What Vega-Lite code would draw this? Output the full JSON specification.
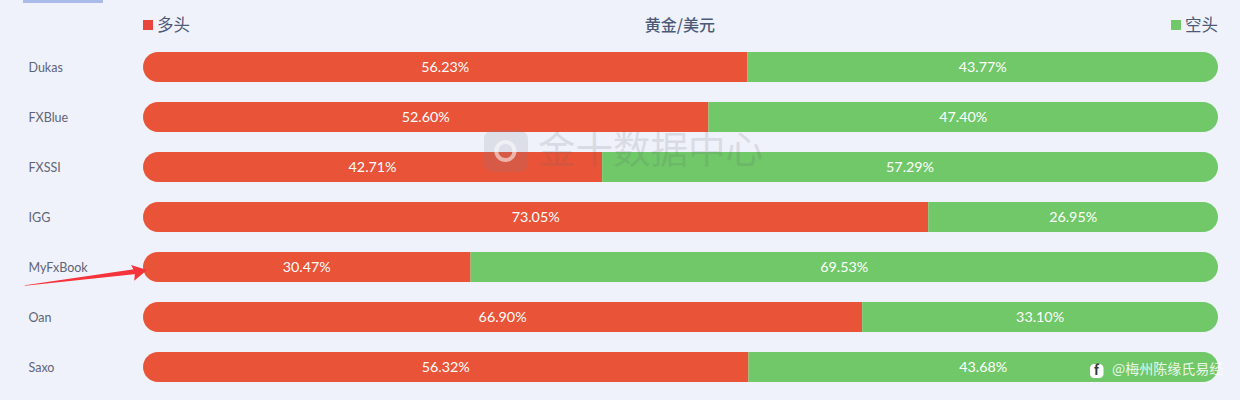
{"$schema":"https://vega.github.io/schema/vega-lite/v6.json","width":1240,"height":400,"padding":0,"autosize":{"type":"none"},"background":"#f0f2fb","config":{"view":{"stroke":null},"font":"Noto Sans CJK SC"},
"datasets":{"rates":[
{"source":"Dukas","side":"多头","value":0.5623},{"source":"Dukas","side":"空头","value":0.4377},
{"source":"FXBlue","side":"多头","value":0.526},{"source":"FXBlue","side":"空头","value":0.474},
{"source":"FXSSI","side":"多头","value":0.4271},{"source":"FXSSI","side":"空头","value":0.5729},
{"source":"IGG","side":"多头","value":0.7305},{"source":"IGG","side":"空头","value":0.2695},
{"source":"MyFxBook","side":"多头","value":0.3047},{"source":"MyFxBook","side":"空头","value":0.6953},
{"source":"Oan","side":"多头","value":0.669},{"source":"Oan","side":"空头","value":0.331},
{"source":"Saxo","side":"多头","value":0.5632},{"source":"Saxo","side":"空头","value":0.4368}],
"notes":[
{"id":"tab","x":-0.1116,"x2":-0.0372,"y":-0.34,"y2":-0.28},
{"id":"longKey","x":0,"x2":0.0093,"y":0.06,"y2":0.26},
{"id":"shortKey","x":0.9563,"x2":0.9656,"y":0.06,"y2":0.26},
{"id":"logo","x":0.3172,"x2":0.3581,"y":2.26,"y2":3.1},
{"id":"tagIcon","x":0.8809,"x2":0.8935,"y":6.94,"y2":7.22}],
"labels":[
{"id":"left","x":0.013,"y":0.18,"text":"多头"},
{"id":"right","x":1,"y":0.18,"text":"空头"},
{"id":"title","x":0.4995,"y":0.18,"text":"黄金/美元"},
{"id":"mark","x":0.472,"y":2.7,"text":"金十数据中心"},
{"id":"tag","x":0.9013,"y":7.06,"text":"@梅州陈缘氏易经"},
{"id":"f","x":0.887,"y":7.08,"text":"f"}],
"arrow":[
{"part":"shaft","x":-0.1098,"y":5.37,"w":0.5},{"part":"shaft","x":-0.0065,"y":5.09,"w":5},
{"part":"head","x":-0.0037,"y":5.1,"w":8}]},
"data":{"name":"rates"},
"resolve":{"scale":{"y":"independent"}},
"layer":[
{"layer":[
{"transform":[{"stack":"value","groupby":["source"],"sort":[{"field":"side","order":"ascending"}],"as":["start","end"]},{"filter":"datum.side==='多头'"}],
"mark":{"type":"bar","color":"#e95337","cornerRadiusTopLeft":15,"cornerRadiusBottomLeft":15},
"encoding":{"x":{"field":"start","type":"quantitative","scale":{"domain":[0,1],"range":[143,1218],"nice":false,"zero":false},"axis":null},"x2":{"field":"end"},
"y":{"field":"source","type":"nominal","title":null,"scale":{"type":"band","domain":["header","Dukas","FXBlue","FXSSI","IGG","MyFxBook","Oan","Saxo"],"range":[-8,392],"paddingInner":0.4,"paddingOuter":0.2},
"axis":{"values":["Dukas","FXBlue","FXSSI","IGG","MyFxBook","Oan","Saxo"],"orient":"left","offset":-28,"labelAlign":"left","labelPadding":0,"labelOffset":1,"ticks":false,"domain":false,"grid":false,"labelFont":"Lato","labelFontSize":12.5,"labelColor":"#5f6478"}}}},
{"transform":[{"stack":"value","groupby":["source"],"sort":[{"field":"side","order":"ascending"}],"as":["start","end"]},{"filter":"datum.side==='空头'"}],
"mark":{"type":"bar","color":"#70c868","cornerRadiusTopRight":15,"cornerRadiusBottomRight":15},
"encoding":{"x":{"field":"start","type":"quantitative","axis":null},"x2":{"field":"end"},"y":{"field":"source","type":"nominal"}}},
{"mark":{"type":"text","color":"#ffffff","fontSize":14.3,"font":"Lato","dy":0.5},
"encoding":{"x":{"field":"value","type":"quantitative","stack":"zero","bandPosition":0.5,"axis":null},"y":{"field":"source","type":"nominal"},"order":{"field":"side","sort":"ascending"},"text":{"field":"value","type":"quantitative","format":".2%"}}}
]},
{"layer":[
{"data":{"name":"notes"},"transform":[{"filter":"datum.id==='tab'"}],"mark":{"type":"rect","color":"#a9bce8"},"encoding":{"x":{"field":"x","type":"quantitative","axis":null},"x2":{"field":"x2"},"y":{"field":"y","type":"quantitative","axis":null,"scale":{"domain":[-0.34,7.66],"range":[0,400],"nice":false,"zero":false}},"y2":{"field":"y2"}}},
{"data":{"name":"notes"},"transform":[{"filter":"datum.id==='longKey'"}],"mark":{"type":"rect","color":"#e8463a"},"encoding":{"x":{"field":"x","type":"quantitative","axis":null},"x2":{"field":"x2"},"y":{"field":"y","type":"quantitative","axis":null},"y2":{"field":"y2"}}},
{"data":{"name":"notes"},"transform":[{"filter":"datum.id==='shortKey'"}],"mark":{"type":"rect","color":"#70c868"},"encoding":{"x":{"field":"x","type":"quantitative","axis":null},"x2":{"field":"x2"},"y":{"field":"y","type":"quantitative","axis":null},"y2":{"field":"y2"}}},
{"data":{"name":"notes"},"transform":[{"filter":"datum.id==='logo'"}],"mark":{"type":"rect","color":"#7a7f8c","opacity":0.17,"cornerRadius":9},"encoding":{"x":{"field":"x","type":"quantitative","axis":null},"x2":{"field":"x2"},"y":{"field":"y","type":"quantitative","axis":null},"y2":{"field":"y2"}}},
{"data":{"name":"labels"},"transform":[{"filter":"datum.id==='mark'"}],"mark":{"type":"point","shape":"circle","filled":false,"color":"#ffffff","opacity":0.55,"strokeWidth":4,"size":330,"xOffset":-145,"yOffset":-1},"encoding":{"x":{"field":"x","type":"quantitative","axis":null},"y":{"field":"y","type":"quantitative","axis":null}}},
{"data":{"name":"labels"},"transform":[{"filter":"datum.id==='mark'"}],"mark":{"type":"text","color":"#5f6673","opacity":0.16,"fontSize":37.5},"encoding":{"x":{"field":"x","type":"quantitative","axis":null},"y":{"field":"y","type":"quantitative","axis":null},"text":{"field":"text"}}},
{"data":{"name":"labels"},"transform":[{"filter":"datum.id==='left'"}],"mark":{"type":"text","color":"#4d5a77","fontSize":16.5,"align":"left"},"encoding":{"x":{"field":"x","type":"quantitative","axis":null},"y":{"field":"y","type":"quantitative","axis":null},"text":{"field":"text"}}},
{"data":{"name":"labels"},"transform":[{"filter":"datum.id==='right'"}],"mark":{"type":"text","color":"#4d5a77","fontSize":16.5,"align":"right"},"encoding":{"x":{"field":"x","type":"quantitative","axis":null},"y":{"field":"y","type":"quantitative","axis":null},"text":{"field":"text"}}},
{"data":{"name":"labels"},"transform":[{"filter":"datum.id==='title'"}],"mark":{"type":"text","color":"#4d5a77","fontSize":16,"fontWeight":500},"encoding":{"x":{"field":"x","type":"quantitative","axis":null},"y":{"field":"y","type":"quantitative","axis":null},"text":{"field":"text"}}},
{"data":{"name":"labels"},"transform":[{"filter":"datum.id==='tag'"}],"mark":{"type":"text","color":"#ffffff","opacity":0.85,"fontSize":14,"align":"left"},"encoding":{"x":{"field":"x","type":"quantitative","axis":null},"y":{"field":"y","type":"quantitative","axis":null},"text":{"field":"text"}}},
{"data":{"name":"notes"},"transform":[{"filter":"datum.id==='tagIcon'"}],"mark":{"type":"rect","color":"#ffffff","cornerRadius":4},"encoding":{"x":{"field":"x","type":"quantitative","axis":null},"x2":{"field":"x2"},"y":{"field":"y","type":"quantitative","axis":null},"y2":{"field":"y2"}}},
{"data":{"name":"labels"},"transform":[{"filter":"datum.id==='f'"}],"mark":{"type":"text","color":"#33383f","fontSize":13,"fontWeight":"bold"},"encoding":{"x":{"field":"x","type":"quantitative","axis":null},"y":{"field":"y","type":"quantitative","axis":null},"text":{"field":"text"}}},
{"data":{"name":"arrow"},"transform":[{"filter":"datum.part==='shaft'"}],"mark":{"type":"trail","color":"#f5333a"},"encoding":{"x":{"field":"x","type":"quantitative","axis":null},"y":{"field":"y","type":"quantitative","axis":null},"size":{"field":"w","type":"quantitative","scale":null,"legend":null},"order":{"field":"x"}}},
{"data":{"name":"arrow"},"transform":[{"filter":"datum.part==='head'"}],"mark":{"type":"point","filled":true,"opacity":1,"color":"#f5333a","size":256,"shape":"M1,-0.25 L-1,-0.875 L-0.5,0 L-0.6,1.1 Z"},"encoding":{"x":{"field":"x","type":"quantitative","axis":null},"y":{"field":"y","type":"quantitative","axis":null}}}
]}
]}
